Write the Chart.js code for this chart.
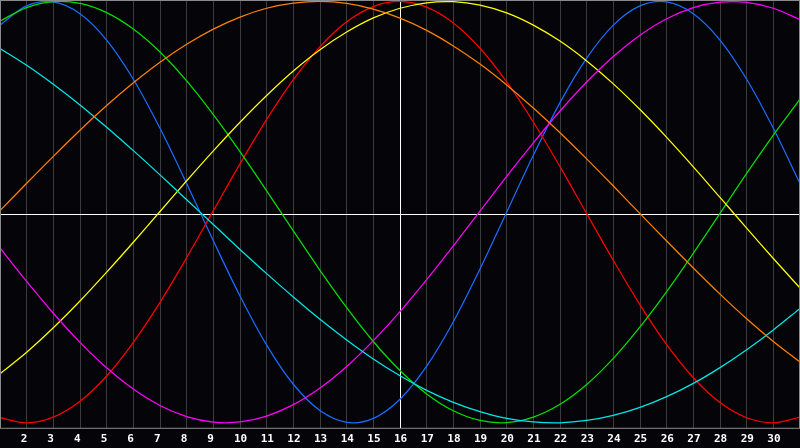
<!DOCTYPE html>
<html>
<head>
<meta charset="utf-8">
<script src="https://cdn.jsdelivr.net/npm/chart.js@4.4.0/dist/chart.umd.min.js"></script>
<style>
  html, body { margin: 0; padding: 0; background: #050408; }
  #wrap { width: 800px; height: 448px; }
</style>
</head>
<body>
<div id="wrap"><canvas id="c" width="800" height="448"></canvas></div>
<script>
const days = [1,2,3,4,5,6,7,8,9,10,11,12,13,14,15,16,17,18,19,20,21,22,23,24,25,26,27,28,29,30,31];

const physical = [0.888,0.979,0.998,0.942,0.817,0.631,0.398,0.136,-0.136,-0.398,-0.631,-0.817,-0.942,-0.998,-0.979,-0.888,-0.731,-0.520,-0.270,0.000,0.270,0.520,0.731,0.888,0.979,0.998,0.942,0.817,0.631,0.398,0.136];
const emotional = [-0.976,-1.000,-0.973,-0.898,-0.778,-0.618,-0.428,-0.216,0.007,0.229,0.440,0.629,0.786,0.904,0.976,1.000,0.973,0.898,0.778,0.618,0.428,0.216,-0.007,-0.229,-0.440,-0.629,-0.786,-0.904,-0.976,-1.000,-0.973];
const intellectual = [0.907,0.971,0.999,0.991,0.947,0.869,0.760,0.623,0.463,0.287,0.101,-0.089,-0.276,-0.453,-0.614,-0.752,-0.863,-0.943,-0.989,-0.999,-0.973,-0.912,-0.818,-0.694,-0.545,-0.377,-0.195,-0.006,0.184,0.366,0.536];
const intuitive = [-0.170,-0.329,-0.480,-0.618,-0.739,-0.840,-0.918,-0.971,-0.997,-0.996,-0.968,-0.914,-0.835,-0.733,-0.610,-0.472,-0.320,-0.160,0.005,0.170,0.329,0.480,0.618,0.739,0.840,0.918,0.971,0.997,0.996,0.968,0.914];
const aesthetic = [-0.767,-0.665,-0.549,-0.422,-0.285,-0.143,0.003,0.149,0.291,0.427,0.554,0.670,0.771,0.855,0.922,0.968,0.994,0.999,0.983,0.946,0.888,0.812,0.718,0.609,0.487,0.355,0.215,0.070,-0.076,-0.220,-0.360];
const awareness = [0.007,0.137,0.265,0.389,0.506,0.614,0.712,0.797,0.869,0.926,0.968,0.992,1.000,0.991,0.964,0.921,0.863,0.789,0.703,0.604,0.494,0.377,0.253,0.124,-0.007,-0.137,-0.265,-0.389,-0.506,-0.614,-0.712];
const spiritual = [0.777,0.697,0.607,0.509,0.403,0.292,0.177,0.059,-0.059,-0.177,-0.292,-0.403,-0.509,-0.607,-0.697,-0.777,-0.846,-0.903,-0.947,-0.979,-0.996,-1.000,-0.989,-0.965,-0.927,-0.876,-0.813,-0.738,-0.653,-0.559,-0.457];

const todayLabel = 16;

const series = [
  { name: 'Awareness', data: awareness, color: '#ff8000' },
  { name: 'Spiritual', data: spiritual, color: '#00e8e8' },
  { name: 'Intuitive', data: intuitive, color: '#ff00ff' },
  { name: 'Aesthetic', data: aesthetic, color: '#ffff00' },
  { name: 'Intellectual', data: intellectual, color: '#00e000' },
  { name: 'Emotional', data: emotional, color: '#ff0000' },
  { name: 'Physical', data: physical, color: '#1a6cff' }
];

const framePlugin = {
  id: 'frame',
  beforeDatasetsDraw(chart) {
    const { ctx, chartArea: a } = chart;
    ctx.save();
    const mid = Math.round((a.top + a.bottom) / 2);
    ctx.fillStyle = '#ffffff';
    ctx.fillRect(a.left, mid, a.right - a.left, 1);
    ctx.restore();
  },
  afterDraw(chart) {
    const { ctx, chartArea: a } = chart;
    ctx.save();
    ctx.strokeStyle = '#8a8a8a';
    ctx.lineWidth = 1;
    ctx.strokeRect(a.left + 0.5, a.top + 0.5, a.right - a.left - 1, a.bottom - a.top);
    ctx.restore();
  }
};

new Chart(document.getElementById('c'), {
  type: 'line',
  data: {
    labels: days,
    datasets: series.map(s => ({
      label: s.name,
      data: s.data,
      borderColor: s.color,
      backgroundColor: s.color,
      borderWidth: 1.25,
      pointRadius: 0,
      pointHoverRadius: 0,
      fill: false,
      tension: 0.33
    }))
  },
  options: {
    responsive: false,
    animation: false,
    devicePixelRatio: 1,
    layout: { autoPadding: false, padding: { left: 0, right: 0, top: 0, bottom: 2 } },
    plugins: { legend: { display: false }, tooltip: { enabled: false } },
    scales: {
      x: {
        type: 'category',
        offset: false,
        border: { display: false },
        grid: {
          drawTicks: true,
          tickLength: 5,
          tickColor: 'rgba(0,0,0,0)',
          lineWidth: 1,
          color: (ctx) => {
            const i = ctx.index;
            if (i === 0 || i === days.length - 1) return 'rgba(0,0,0,0)';
            return days[i] === todayLabel ? '#ffffff' : '#3c3c3c';
          }
        },
        ticks: {
          autoSkip: false,
          maxRotation: 0,
          minRotation: 0,
          align: 'start',
          labelOffset: -6,
          padding: 0,
          color: '#ffffff',
          font: { family: 'DejaVu Sans Mono', weight: 'bold', size: 11, lineHeight: 1.2 },
          callback: (v, i) => (i === 0 || i === days.length - 1) ? '' : String(days[i])
        }
      },
      y: {
        display: false,
        min: -1.0238,
        max: 1.0071
      }
    }
  },
  plugins: [framePlugin]
});
</script>
</body>
</html>
